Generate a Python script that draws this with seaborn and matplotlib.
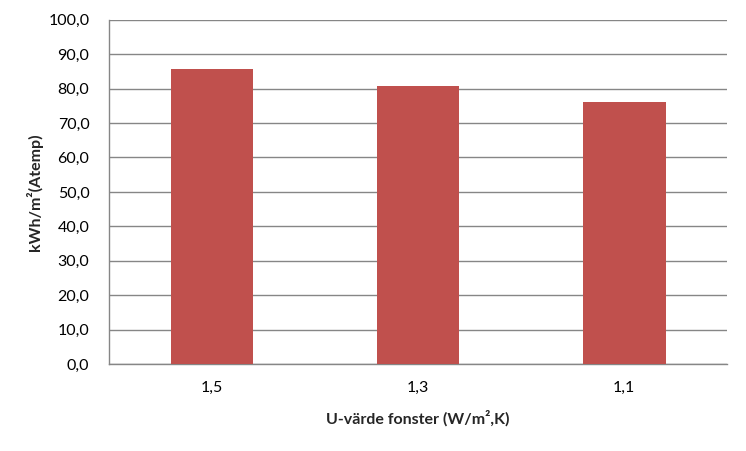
import matplotlib
matplotlib.use("Agg")
import matplotlib.pyplot as plt
import seaborn as sns
import pandas as pd

categories = ["1,5", "1,3", "1,1"]
values = [85.8, 80.9, 76.0]
yticks = [0, 10, 20, 30, 40, 50, 60, 70, 80, 90, 100]
ytick_labels = ["0,0", "10,0", "20,0", "30,0", "40,0", "50,0", "60,0", "70,0", "80,0", "90,0", "100,0"]

sns.set_style("white")
plt.rcParams['font.family'] = ['Lato', 'DejaVu Sans']

df = pd.DataFrame({"cat": categories, "val": values})

fig = plt.figure(figsize=(7.46, 4.51), dpi=100)
ax = fig.add_axes([0.146, 0.193, 0.829, 0.763])
sns.barplot(data=df, x="cat", y="val", color="#C0504D", saturation=1, width=0.4, ax=ax, zorder=3)
for p in ax.patches:
    p.set_edgecolor("none")

ax.set_ylim(0, 100)
ax.set_xlim(-0.5, 2.5)
ax.set_yticks(yticks)
ax.set_yticklabels(ytick_labels)
ax.yaxis.grid(True, color="#868686", linewidth=1, zorder=0)
ax.set_axisbelow(True)
for s in ["top", "right"]:
    ax.spines[s].set_visible(False)
for s in ["left", "bottom"]:
    ax.spines[s].set_color("#868686")
    ax.spines[s].set_linewidth(1)
ax.tick_params(axis="both", length=0, labelsize=11.5, colors="black")
ax.tick_params(axis="y", pad=14)
ax.tick_params(axis="x", pad=12)
ax.set_xlabel("U-värde fonster (W/m²,K)", fontsize=11.5, fontweight="bold", labelpad=11)
ax.set_ylabel("kWh/m²(Atemp)", fontsize=11.5, fontweight="bold", labelpad=4)

fig.savefig("out.png", dpi=100)
